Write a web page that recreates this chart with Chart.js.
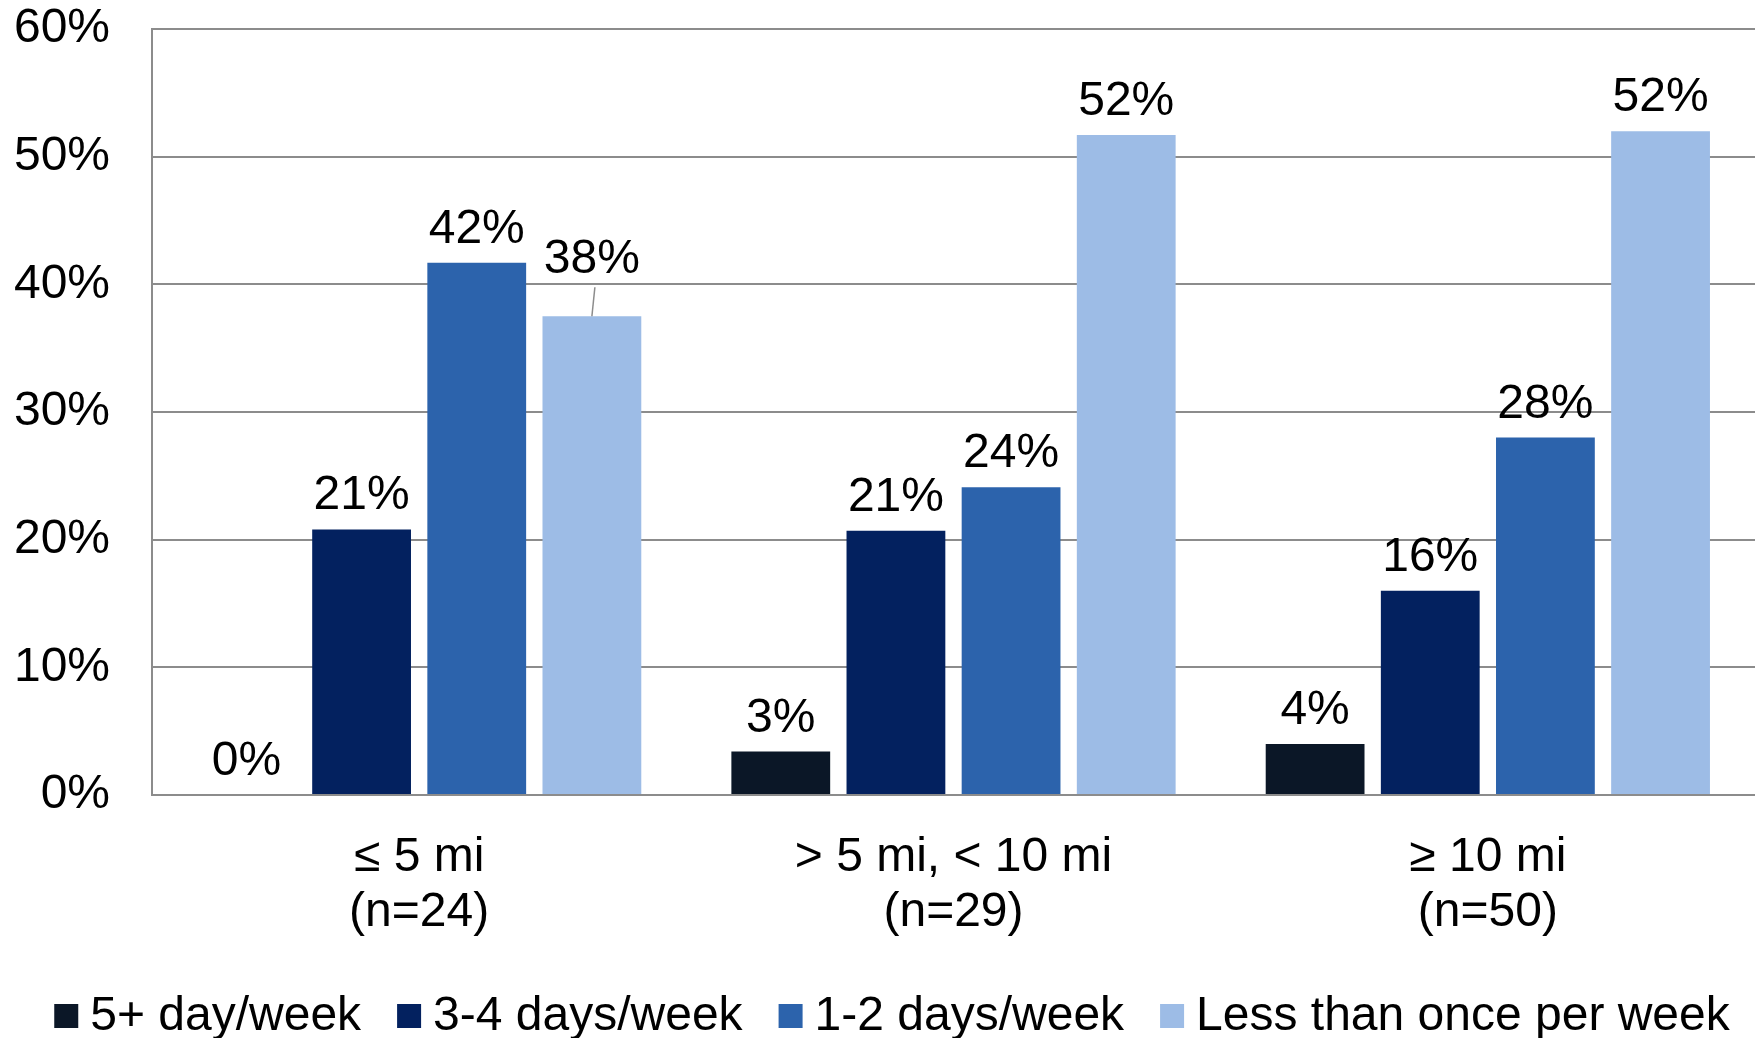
<!DOCTYPE html>
<html>
<head>
<meta charset="utf-8">
<script src="https://cdn.jsdelivr.net/npm/chart.js@4.4.0/dist/chart.umd.min.js"></script>
<style>
  html, body { margin: 0; padding: 0; background: #ffffff; }
  #wrap { width: 1762px; height: 1038px; position: relative; }
</style>
</head>
<body>
<div id="wrap"><canvas id="c"></canvas></div>
<script>
// Commute distance groups (two-line axis labels)
const categories = [
  ['≤ 5 mi', '(n=24)'],
  ['> 5 mi, < 10 mi', '(n=29)'],
  ['≥ 10 mi', '(n=50)']
];

// Share of respondents per frequency (%)
const seriesNames = ['5+ day/week', '3-4 days/week', '1-2 days/week', 'Less than once per week'];
const fivePlusDays  = [0, 3.4, 4.0];
const threeFourDays = [20.8, 20.7, 16.0];
const oneTwoDays    = [41.7, 24.1, 28.0];
const lessThanWeek  = [37.5, 51.7, 52.0];

// Value axis
const yMin = 0;
const yMax = 60;
const yStep = 10;

const seriesColors = ['#0B1727', '#03215F', '#2C63AC', '#9DBCE6'];
const FONT = "'Liberation Sans', Arial, Helvetica, sans-serif";
const FONT_SIZE = 48;
const GRID = '#8C8C8C';

// Value labels above each bar; one label is lifted with a leader line
const barLabels = {
  id: 'barLabels',
  afterDatasetsDraw(chart, args, opts) {
    const ctx = chart.ctx;
    ctx.save();
    ctx.font = FONT_SIZE + 'px ' + FONT;
    ctx.fillStyle = '#000';
    ctx.textAlign = 'center';
    ctx.textBaseline = 'alphabetic';
    chart.data.datasets.forEach((ds, di) => {
      const meta = chart.getDatasetMeta(di);
      meta.data.forEach((bar, i) => {
        const v = ds.data[i];
        const lift = opts.lifted.find(l => l.dataset === di && l.index === i);
        let base = bar.y - opts.gap;
        if (lift) {
          base -= lift.dy;
          ctx.strokeStyle = GRID;
          ctx.lineWidth = 1.5;
          ctx.beginPath();
          ctx.moveTo(bar.x + 3, base + 14);
          ctx.lineTo(bar.x, bar.y);
          ctx.stroke();
        }
        ctx.fillText(Math.round(v) + '%', bar.x, base);
      });
    });
    ctx.restore();
  }
};

// Legend row along the bottom edge
const bottomLegend = {
  id: 'bottomLegend',
  afterDraw(chart, args, opts) {
    const ctx = chart.ctx;
    ctx.save();
    ctx.font = FONT_SIZE + 'px ' + FONT;
    ctx.textBaseline = 'alphabetic';
    ctx.textAlign = 'left';
    const items = chart.data.datasets.map(ds => ({
      text: ds.label, color: ds.backgroundColor,
      w: opts.box + opts.textGap + ctx.measureText(ds.label).width
    }));
    const total = items.reduce((s, it) => s + it.w, 0) + opts.itemGap * (items.length - 1);
    let x = (chart.width - total) / 2 + opts.shift;
    items.forEach(it => {
      ctx.fillStyle = it.color;
      ctx.fillRect(x, opts.baseline - 26, opts.box, opts.box);
      ctx.fillStyle = '#000';
      ctx.fillText(it.text, x + opts.box + opts.textGap, opts.baseline);
      x += it.w + opts.itemGap;
    });
    ctx.restore();
  }
};

const seriesValues = [fivePlusDays, threeFourDays, oneTwoDays, lessThanWeek];

new Chart(document.getElementById('c'), {
  type: 'bar',
  data: {
    labels: categories,
    datasets: seriesNames.map((name, k) => ({
      label: name,
      data: seriesValues[k],
      backgroundColor: seriesColors[k],
      borderWidth: 0,
      categoryPercentage: 0.862,
      barPercentage: 0.858
    }))
  },
  options: {
    responsive: true,
    maintainAspectRatio: false,
    animation: false,
    devicePixelRatio: 1,
    layout: { padding: { top: 29, right: 7, bottom: 0, left: 0 } },
    plugins: {
      legend: { display: false },
      tooltip: { enabled: false },
      barLabels: { gap: 20, lifted: [{ dataset: 3, index: 0, dy: 23 }] },
      bottomLegend: { box: 24, textGap: 12, itemGap: 36, baseline: 1030, shift: 11 }
    },
    scales: {
      x: {
        grid: { display: false },
        border: { display: false },
        ticks: {
          color: '#000',
          font: { family: FONT, size: FONT_SIZE, lineHeight: 1.15 },
          padding: 27,
          maxRotation: 0,
          autoSkip: false
        },
        afterFit(scale) {
          scale.height = 243;
          scale.paddingLeft = 0;
          scale.paddingRight = 0;
        }
      },
      y: {
        min: yMin,
        max: yMax,
        grid: { color: GRID, lineWidth: 2, drawTicks: false },
        border: { display: true, color: GRID, width: 2 },
        ticks: {
          stepSize: yStep,
          color: '#000',
          font: { family: FONT, size: FONT_SIZE },
          padding: 42,
          callback: v => v + '%'
        },
        afterFit(scale) {
          scale.width = 152;
          scale.paddingTop = 0;
          scale.paddingBottom = 0;
        }
      }
    }
  },
  plugins: [barLabels, bottomLegend]
});
</script>
</body>
</html>
